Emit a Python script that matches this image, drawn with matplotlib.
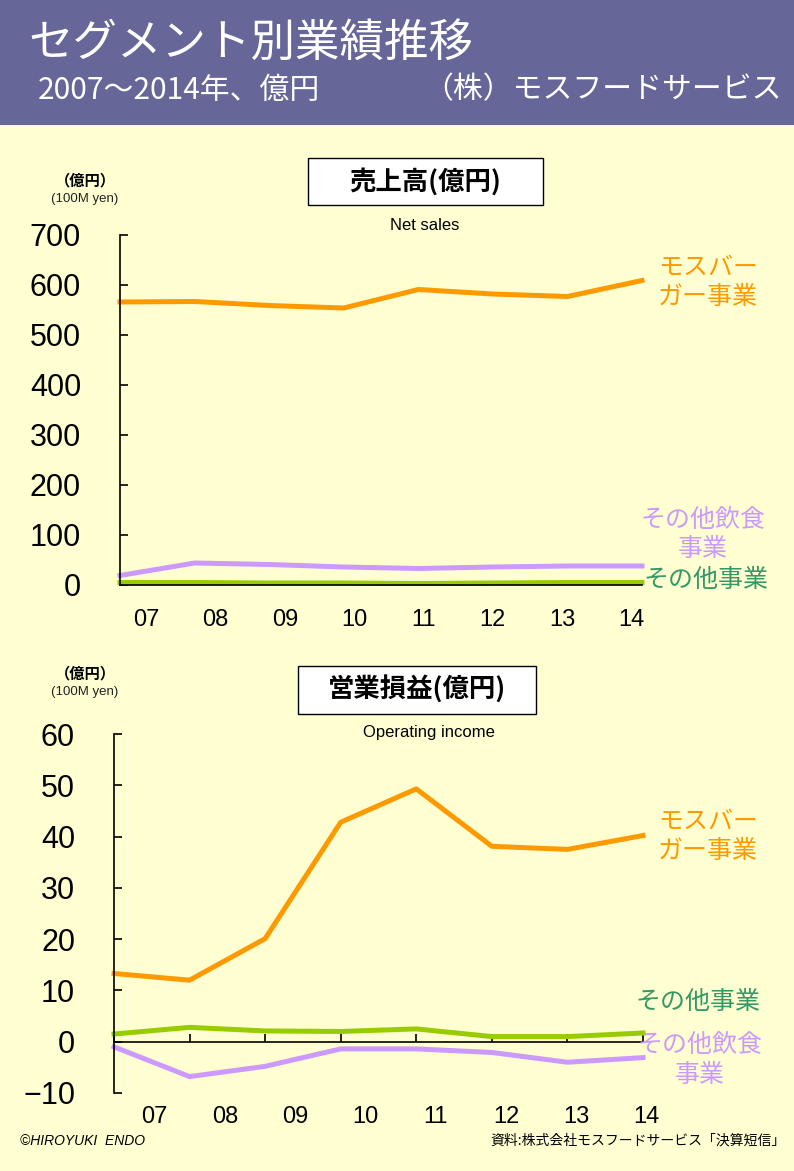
import numpy as np
import matplotlib
matplotlib.use("Agg")
import matplotlib.pyplot as plt
from matplotlib import font_manager as fm
from matplotlib.patches import Rectangle

# data (億円)
years = ["07", "08", "09", "10", "11", "12", "13", "14"]
sales_mos = [566, 567, 559, 554, 591, 582, 577, 609]
sales_food = [19, 44, 41, 36, 33, 36, 38, 38]
sales_other = [5, 5, 4, 4, 3, 4, 5, 5]
op_mos = [13.3, 12.0, 20.1, 42.8, 49.3, 38.1, 37.5, 40.2]
op_food = [-1.0, -6.8, -4.8, -1.4, -1.4, -2.1, -4.0, -3.1]
op_other = [1.5, 2.8, 2.1, 2.0, 2.5, 1.0, 1.0, 1.7]

W, H = 794, 1171
BG = "#FFFFD2"
HEAD = "#666699"
ORANGE = "#FF9900"
PURPLE = "#CC99FF"
GREEN = "#99CC00"
GREEN_TXT = "#339966"

JP = ["Noto Sans CJK JP", "DejaVu Sans"]
names = {f.name for f in fm.fontManager.ttflist}
NUM = "Liberation Sans Narrow" if "Liberation Sans Narrow" in names else "Liberation Sans"
NUMSIZE = 24 if NUM == "Liberation Sans Narrow" else 22
LAB = 18

fig = plt.figure(figsize=(W / 100, H / 100), dpi=100, facecolor=BG)


def ftxt(x, y, s, **kw):
    kw.setdefault("va", "center")
    return fig.text(x / W, 1 - y / H, s, **kw)


def frect(x0, y0, x1, y1, **kw):
    r = Rectangle((x0 / W, 1 - y1 / H), (x1 - x0) / W, (y1 - y0) / H,
                  transform=fig.transFigure, **kw)
    fig.add_artist(r)


# header band
frect(0, 0, W, 125, facecolor=HEAD, edgecolor="none", zorder=0)
ftxt(28, 43, "セグメント別業績推移", color="white", fontsize=32, family=JP)
ftxt(38, 90, "2007～2014年、億円", color="white", fontsize=21.5, family=JP)
ftxt(782, 90, "（株）モスフードサービス", color="white", fontsize=21.5,
     family=JP, ha="right")


def make_axes(x0, x1, ytop, ybot):
    ax = fig.add_axes([x0 / W, 1 - ybot / H, (x1 - x0) / W, (ybot - ytop) / H])
    ax.set_facecolor("none")
    for s in ["top", "right"]:
        ax.spines[s].set_visible(False)
    ax.spines["left"].set_linewidth(1.2)
    ax.spines["bottom"].set_linewidth(1.2)
    ax.set_xlim(0, 7)
    ax.set_xticks(range(8))
    ax.set_xticklabels([])
    ax.tick_params(axis="y", direction="in", length=6, width=1.2, pad=28,
                   labelsize=NUMSIZE)
    ax.tick_params(axis="x", direction="in", length=3, width=1.2)
    return ax


lw = 3.6
x = np.arange(len(years))

# ---- net sales
ax1 = make_axes(120, 642, 235, 585)
ax1.set_ylim(0, 700)
ax1.set_yticks(range(0, 701, 100))
for lab in ax1.get_yticklabels():
    lab.set_family(NUM)
ax1.plot(x, sales_mos, color=ORANGE, lw=lw, clip_on=False)
ax1.plot(x, sales_food, color=PURPLE, lw=lw, clip_on=False)
ax1.plot(x, sales_other, color=GREEN, lw=lw, clip_on=False)
for i, yr in enumerate(years):
    ax1.text(0.35 + i * 0.93, -0.1, yr, transform=ax1.get_xaxis_transform(),
             ha="center", va="center", fontsize=17, family=NUM)

frect(308, 158, 543, 205, facecolor="white", edgecolor="black", lw=1.0)
ftxt(425, 182, "売上高(億円)", fontsize=19, weight="bold", family=JP, ha="center")
ftxt(425, 226, "Net sales", fontsize=12, family="Liberation Sans", ha="center")
ftxt(85, 180, "（億円）", fontsize=11, weight="bold", family=JP, ha="center")
ftxt(85, 199, "(100M yen)", fontsize=9.5, family="Liberation Sans",
     ha="center", color="#222222")

ftxt(708, 268, "モスバー", color=ORANGE, fontsize=LAB, family=JP, ha="center")
ftxt(708, 297, "ガー事業", color=ORANGE, fontsize=LAB, family=JP, ha="center")
ftxt(703, 520, "その他飲食", color=PURPLE, fontsize=LAB, family=JP, ha="center")
ftxt(703, 549, "事業", color=PURPLE, fontsize=LAB, family=JP, ha="center")
ftxt(706, 580, "その他事業", color=GREEN_TXT, fontsize=LAB, family=JP, ha="center")

# ---- operating income
ax2 = make_axes(114, 643, 734, 1093)
ax2.set_ylim(-10, 60)
ax2.set_yticks(range(-10, 61, 10))
ax2.set_yticklabels(["−10"] + [str(v) for v in range(0, 61, 10)])
for lab in ax2.get_yticklabels():
    lab.set_family(NUM)
ax2.spines["bottom"].set_position(("data", 0))
ax2.tick_params(axis="x", length=6)
ax2.plot(x, op_mos, color=ORANGE, lw=lw, clip_on=False)
ax2.plot(x, op_other, color=GREEN, lw=lw, clip_on=False)
ax2.plot(x, op_food, color=PURPLE, lw=lw, clip_on=False)
for i, yr in enumerate(years):
    ax2.text(0.54 + i * 0.93, -0.067, yr, transform=ax2.get_xaxis_transform(),
             ha="center", va="center", fontsize=17, family=NUM)

frect(298, 666, 536, 714, facecolor="white", edgecolor="black", lw=1.0)
ftxt(417, 690, "営業損益(億円)", fontsize=19, weight="bold", family=JP, ha="center")
ftxt(429, 733, "Operating income", fontsize=12, family="Liberation Sans", ha="center")
ftxt(85, 673, "（億円）", fontsize=11, weight="bold", family=JP, ha="center")
ftxt(85, 692, "(100M yen)", fontsize=9.5, family="Liberation Sans",
     ha="center", color="#222222")

ftxt(708, 822, "モスバー", color=ORANGE, fontsize=LAB, family=JP, ha="center")
ftxt(708, 851, "ガー事業", color=ORANGE, fontsize=LAB, family=JP, ha="center")
ftxt(698, 1002, "その他事業", color=GREEN_TXT, fontsize=LAB, family=JP, ha="center")
ftxt(700, 1045, "その他飲食", color=PURPLE, fontsize=LAB, family=JP, ha="center")
ftxt(700, 1075, "事業", color=PURPLE, fontsize=LAB, family=JP, ha="center")

# footer
ftxt(20, 1141, "©HIROYUKI  ENDO", fontsize=10, style="italic",
     family="Liberation Sans")
ftxt(786, 1141, "資料:株式会社モスフードサービス「決算短信」", fontsize=10,
     family=JP, ha="right")

fig.savefig("out.png", dpi=100, facecolor=BG)
